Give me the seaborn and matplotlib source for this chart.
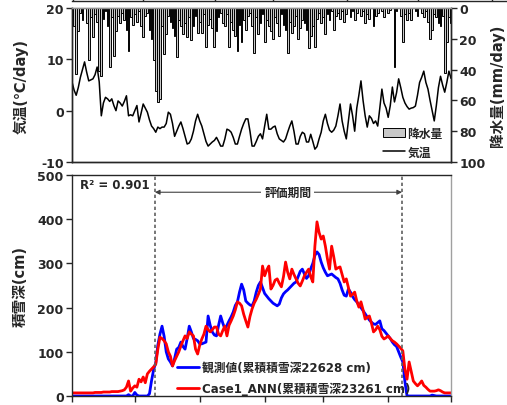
import numpy as np
import pandas as pd
import matplotlib
matplotlib.use('Agg')
import matplotlib.pyplot as plt
import seaborn as sns

# daily values, Nov 1 - Apr 30
temp = [5.6, 4.0, 3.0, 4.5, 6.5, 8.0, 9.5, 7.5, 5.8, 6.0, 6.2, 7.0, 8.5, 5.6, -1.0, 1.5,
        2.6, 2.3, 1.8, 2.3, 1.0, 0.0, 1.9, 1.5, 0.9, 1.8, 2.9, -1.0, -0.8, -1.0, 0.0, 1.0,
        -2.2, -0.5, 1.3, 0.5, -0.3, -1.8, -3.0, -3.5, -4.2, -3.2, -3.5, -3.2, -3.2, -2.5, -0.3, -0.7,
        -2.5, -5.0, -4.0, -3.0, -2.2, -3.5, -5.0, -6.5, -6.3, -5.5, -4.0, -2.0, -0.7, -2.0, -3.0, -4.5,
        -6.0, -6.9, -6.5, -6.1, -5.8, -5.2, -6.0, -6.9, -6.9, -5.5, -3.6, -3.8, -4.2, -5.2, -6.5, -6.5,
        -5.0, -3.6, -2.5, -1.6, -1.6, -4.0, -6.9, -6.9, -6.0, -5.0, -4.5, -5.5, -3.0, -0.7, -3.6, -3.6,
        -3.2, -3.0, -4.5, -5.5, -5.8, -6.1, -5.5, -4.2, -3.0, -2.0, -4.0, -6.5, -6.5, -5.0, -4.2, -4.5,
        -6.1, -6.1, -4.6, -6.0, -7.5, -7.0, -5.5, -4.2, -2.0, -0.7, -2.5, -3.8, -4.2, -3.8, -3.0, -1.0,
        1.3, -2.0, -4.0, -5.5, -2.0, 1.3, -1.0, -4.0, 0.5, 3.0, 5.8, 2.0, -1.0, -3.2, -1.0, -1.5,
        -2.5, -2.0, -3.0, 0.5, 4.2, 1.5, 0.5, -1.3, 1.0, 4.6, 1.7, 3.5, 6.2, 4.5, 2.6, 1.5,
        0.8, 0.3, 0.5, 0.6, 0.9, 3.0, 5.5, 6.5, 7.7, 5.5, 4.2, 2.0, 0.0, -2.0, 1.0, 4.5,
        6.7, 5.0, 3.6, 5.5, 7.7, 6.3]

precip = [5, 12, 43, 15, 3, 8, 0, 10, 34, 6, 19, 4, 9, 41, 44, 7,
          2, 12, 38, 6, 31, 15, 5, 10, 3, 8, 14, 28, 6, 11, 4, 9,
          2, 12, 19, 5, 3, 14, 20, 34, 54, 61, 59, 12, 30, 17, 5, 9,
          13, 18, 32, 8, 12, 17, 10, 19, 6, 21, 12, 5, 16, 9, 16, 4,
          25, 11, 7, 13, 25, 15, 6, 3, 10, 12, 4, 25, 9, 14, 18, 28,
          11, 22, 8, 14, 5, 3, 12, 29, 6, 17, 10, 4, 22, 8, 12, 15,
          20, 6, 10, 18, 4, 11, 14, 29, 9, 16, 12, 5, 20, 13, 8, 10,
          14, 26, 18, 12, 25, 7, 3, 10, 6, 17, 4, 8, 2, 14, 5, 3,
          7, 2, 9, 4, 0, 6, 2, 8, 3, 0, 5, 2, 10, 4, 7, 0,
          12, 5, 3, 0, 2, 6, 0, 3, 1, 0, 38, 2, 0, 5, 22, 4,
          8, 3, 8, 0, 2, 5, 0, 3, 6, 2, 9, 20, 14, 4, 6, 10,
          12, 5, 42, 22, 6, 10]

obs_depth = [0] * 27 + [3, 0, 0, 8, 2, 0, 0, 0, 0, 0, 5, 35, 60, 75, 115,
             140, 158, 135, 100, 84, 77, 68, 85, 106, 110, 122, 112, 106, 130, 158, 145,
             130, 128, 125, 118, 118, 120, 122, 181, 160, 145, 138, 136, 160, 181, 165, 152,
             160, 170, 179, 190, 205, 213, 235, 253, 240, 215, 210, 206, 204, 215, 235, 250,
             258, 245, 232, 226, 220, 215, 210, 207, 204, 208, 222, 231, 236, 240, 245, 250,
             255, 258, 270, 282, 287, 276, 266, 272, 288, 300, 318, 326, 320, 303, 290, 280,
             272, 274, 276, 272, 268, 265, 255, 240, 228, 226, 242, 235, 225, 218, 213, 206,
             200, 193, 186, 179, 172, 167, 163, 162, 166, 170, 152, 148, 142, 136, 130, 122,
             116, 112, 100, 88, 77, 32, 0, 0, 0, 0, 0, 0, 0, 0, 0, 0,
             0, 0, 2, 1, 0, 0, 0, 0, 0, 0, 0, 0]

ann_depth = [7, 7, 7, 7, 7, 7, 7, 7, 7, 7, 7, 8, 8, 8, 8, 9,
             9, 9, 9, 10, 10, 10, 10, 11, 12, 14, 20, 34, 11, 18, 23, 20,
             38, 32, 43, 30, 50, 56, 61, 66, 72, 106, 133, 130, 125, 118, 100, 90,
             68, 80, 90, 100, 113, 125, 136, 130, 145, 140, 136, 106, 95, 115, 129, 140,
             158, 150, 145, 150, 156, 156, 140, 136, 148, 158, 136, 160, 170, 181, 195, 213,
             210, 204, 185, 170, 156, 180, 197, 210, 219, 230, 242, 294, 272, 285, 294, 242,
             250, 262, 265, 255, 247, 270, 303, 280, 265, 287, 275, 265, 255, 249, 260, 272,
             280, 287, 270, 258, 339, 394, 370, 355, 362, 339, 310, 287, 339, 315, 287, 290,
             292, 275, 258, 265, 245, 226, 230, 235, 215, 201, 213, 195, 174, 178, 181, 165,
             145, 150, 158, 150, 135, 129, 132, 136, 130, 125, 122, 118, 113, 108, 102, 60,
             38, 77, 55, 34, 28, 23, 28, 34, 24, 20, 15, 11, 11, 11, 12, 14,
             12, 9, 7, 7, 7, 7]

month_ticks = [0, 30, 61, 92, 120, 151, 181]
eval_start, eval_end = 39.6, 157.6
r2_text = 'R² = 0.901'
obs_label = '観測値(累積積雪深22628 cm)'
ann_label = 'Case1_ANN(累積積雪深23261 cm)'

df = pd.DataFrame({'temp': pd.Series(temp), 'precip': pd.Series(precip),
                   'obs': pd.Series(obs_depth), 'ann': pd.Series(ann_depth)})
df['day'] = df.index

sns.set_style('ticks')
plt.rcParams['font.family'] = ['DejaVu Sans', 'Noto Sans CJK JP']
plt.rcParams['font.weight'] = 'bold'
plt.rcParams['axes.labelweight'] = 'bold'
plt.rcParams['axes.unicode_minus'] = False

W, H = 507, 406
fig = plt.figure(figsize=(W / 100, H / 100), dpi=100)

# edge of the panel above (cropped)
ax0 = fig.add_axes([72 / W, 1 - 1.5 / H, (W - 72) / W, 0.001])
ax0.set_xlim(72, W)
for s in ['top', 'left', 'right']:
    ax0.spines[s].set_visible(False)
ax0.spines['bottom'].set_linewidth(1.0)
ax0.set_xticks([73, 143, 215, 273, 347, 418, 492])
ax0.set_xticklabels([])
ax0.set_yticks([])
ax0.tick_params(axis='x', direction='in', length=3, width=1)

# top panel: temperature + precipitation
ax1 = fig.add_axes([72 / W, 1 - 163 / H, 379 / W, 154 / H])
ax2 = ax1.twinx()
bars = ax2.bar(df['day'], df['precip'], width=0.85, color='#c8c8c8',
               edgecolor='black', linewidth=0.7, label='降水量')
ax2.set_ylim(100, 0)
ax2.set_yticks([0, 20, 40, 60, 80, 100])
sns.lineplot(data=df, x='day', y='temp', ax=ax1, color='black', lw=1.1,
             label='気温', legend=False)
ax1.set_xlim(0, 181)
ax1.set_ylim(-10, 20)
ax1.set_yticks([-10, 0, 10, 20])
ax1.set_xticks([])
ax1.set_xlabel('')
ax1.set_ylabel('気温(℃/day)', fontsize=10.5, labelpad=9)
ax2.set_ylabel('降水量(mm/day)', fontsize=10.5, labelpad=3)
for a in (ax1, ax2):
    a.tick_params(labelsize=9, length=4, width=1, pad=2)
    for s in a.spines.values():
        s.set_linewidth(1.0)
ax1.spines['top'].set_color('#909090')
ax2.spines['top'].set_color('#909090')

line_h = ax1.get_lines()[0]
ax2.legend([bars, line_h], ['降水量', '気温'], loc='lower right',
           bbox_to_anchor=(1.0, -0.03), frameon=False, fontsize=8.5,
           handlelength=1.9, handleheight=0.8, labelspacing=0.45,
           handletextpad=0.2, borderaxespad=0.3)

# bottom panel: snow depth
ax3 = fig.add_axes([72 / W, 1 - 397 / H, 379 / W, 221 / H])
sns.lineplot(data=df, x='day', y='obs', ax=ax3, color='#0000ff', lw=2,
             label=obs_label)
sns.lineplot(data=df, x='day', y='ann', ax=ax3, color='#ff0000', lw=2,
             label=ann_label)
ax3.set_xlim(0, 181)
ax3.set_ylim(0, 500)
ax3.set_yticks([0, 100, 200, 300, 400, 500])
ax3.set_xticks(month_ticks)
ax3.set_xticklabels([])
ax3.set_xlabel('')
ax3.set_ylabel('積雪深(cm)', fontsize=10.5, labelpad=7)
ax3.tick_params(labelsize=9, length=4, width=1, pad=2)
for s in ax3.spines.values():
    s.set_linewidth(1.0)
ax3.spines['right'].set_color('#a0a0a0')

for xv in (eval_start, eval_end):
    ax3.axvline(xv, color='#606060', ls=(0, (2, 1.6)), lw=1.2)

ax3.annotate('', xy=(eval_start, 461), xytext=(eval_end, 461),
             arrowprops=dict(arrowstyle='<|-|>', color='#404040', lw=0.8,
                             shrinkA=0, shrinkB=0, mutation_scale=7))
ax3.text(103, 461, '評価期間', ha='center', va='center', fontsize=8.5,
         bbox=dict(facecolor='white', edgecolor='none', pad=2))
ax3.text(0.022, 0.985, r2_text, transform=ax3.transAxes, ha='left', va='top',
         fontsize=8.5)

ax3.legend(loc='lower left', bbox_to_anchor=(0.255, -0.035), frameon=False,
           fontsize=8.5, handlelength=1.9, labelspacing=0.7,
           handletextpad=0.2, borderaxespad=0.3)

fig.savefig('out.png', dpi=100)
